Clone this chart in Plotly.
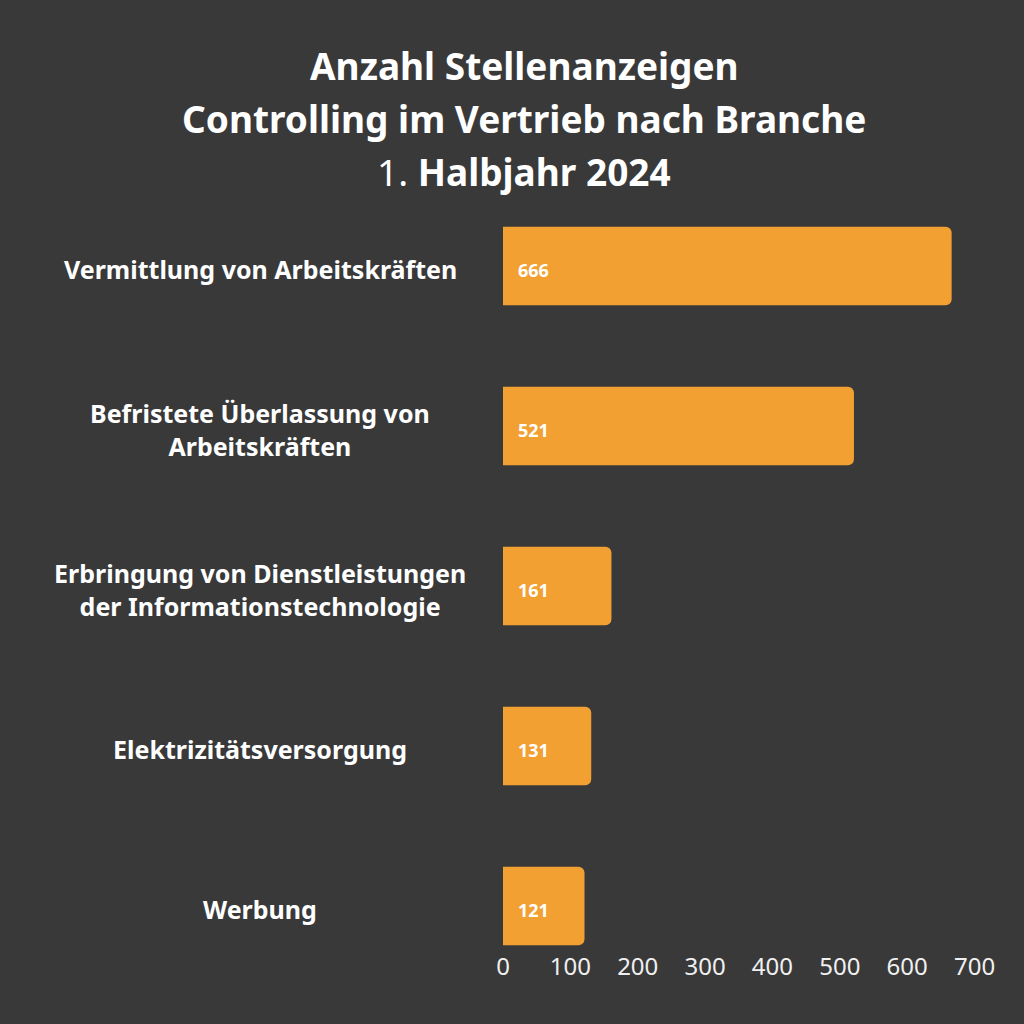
import plotly.graph_objects as go

categories = [
    "Vermittlung von Arbeitskräften",
    "Befristete Überlassung von<br>Arbeitskräften",
    "Erbringung von Dienstleistungen<br>der Informationstechnologie",
    "Elektrizitätsversorgung",
    "Werbung",
]
values = [666, 521, 161, 131, 121]
tick_vals = [0, 100, 200, 300, 400, 500, 600, 700]
title_lines = [
    "<b>Anzahl Stellenanzeigen</b>",
    "<b>Controlling im Vertrieb nach Branche</b>",
    "1.<b> Halbjahr 2024</b>",
]

BG = "#39393a"
BAR = "#f2a032"
FONT = "Noto Sans"

W, H = 1024, 1024
ML, MR, MT, MB = 503, 36, 200, 74
plot_w = W - ML - MR
plot_h = H - MT - MB


def py(px):
    # pixel row -> paper y
    return (H - MB - px) / plot_h


def px_x(px):
    return (px - ML) / plot_w


fig = go.Figure(
    go.Bar(
        x=values,
        y=list(range(len(categories))),
        orientation="h",
        marker=dict(color=BAR, cornerradius=6, line=dict(width=0)),
        width=0.49,
        hoverinfo="skip",
    )
)

annotations = []
for i, (c, v) in enumerate(zip(categories, values)):
    annotations.append(dict(
        x=px_x(260), xref="paper", y=i, yref="y", yshift=-3,
        text=f"<b>{c}</b>", showarrow=False, xanchor="center", yanchor="middle",
        align="center", font=dict(family=FONT, size=25, color="#ffffff"),
    ))
    annotations.append(dict(
        x=0, xref="x", y=i, yref="y", xshift=13, yshift=-4,
        text=f"<b>{v}</b>", showarrow=False, xanchor="left", yanchor="middle",
        font=dict(family=FONT, size=18, color="#ffffff"),
    ))

for line, ypx in zip(title_lines, [65, 118, 172]):
    annotations.append(dict(
        x=px_x(524), xref="paper", y=py(ypx), yref="paper",
        text=line, showarrow=False, xanchor="center", yanchor="middle",
        font=dict(family=FONT, size=37, color="#ffffff"),
    ))

fig.update_layout(
    width=W, height=H,
    paper_bgcolor=BG, plot_bgcolor=BG,
    margin=dict(l=ML, r=MR, t=MT, b=MB),
    showlegend=False,
    xaxis=dict(
        range=[0, 720], tickvals=tick_vals, showgrid=False, zeroline=False,
        showline=False, ticks="", tickfont=dict(family=FONT, size=24, color="#f0f0f0"),
        fixedrange=True,
    ),
    yaxis=dict(
        range=[4 + 44 / 160, -66 / 160], showgrid=False, zeroline=False,
        showline=False, showticklabels=False, ticks="",
    ),
    annotations=annotations,
)

fig.write_html("out.html")
